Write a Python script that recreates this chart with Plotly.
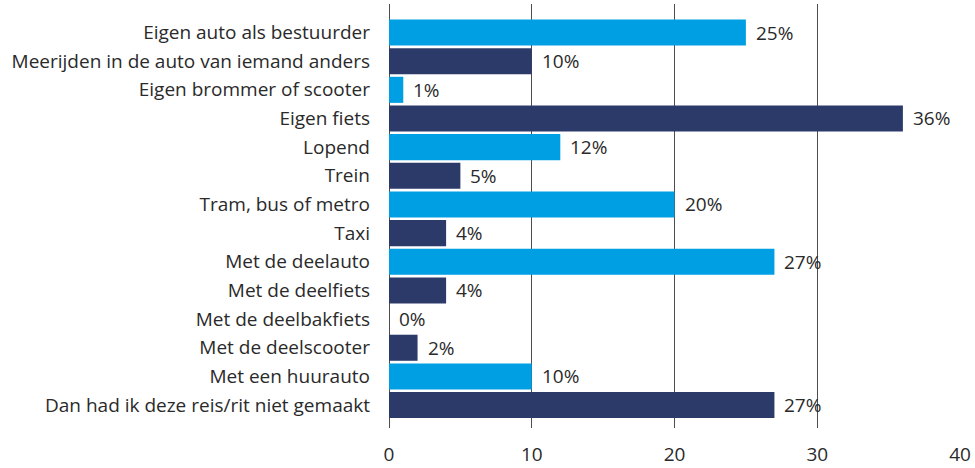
import plotly.graph_objects as go

categories = [
    "Eigen auto als bestuurder",
    "Meerijden in de auto van iemand anders",
    "Eigen brommer of scooter",
    "Eigen fiets",
    "Lopend",
    "Trein",
    "Tram, bus of metro",
    "Taxi",
    "Met de deelauto",
    "Met de deelfiets",
    "Met de deelbakfiets",
    "Met de deelscooter",
    "Met een huurauto",
    "Dan had ik deze reis/rit niet gemaakt",
]
values = [25, 10, 1, 36, 12, 5, 20, 4, 27, 4, 0, 2, 10, 27]
x_ticks = [0, 10, 20, 30, 40]

LIGHT = "#009FE3"
DARK = "#2C3A69"
colors = [LIGHT if i % 2 == 0 else DARK for i in range(len(values))]

FONT = "Open Sans"
FS = 19
TXT = "#2a2a2a"

fig = go.Figure()
fig.add_trace(go.Bar(
    x=values,
    y=categories,
    orientation="h",
    marker=dict(color=colors, line=dict(width=0)),
    width=0.91,
    hoverinfo="skip",
))

for cat, v in zip(categories, values):
    fig.add_annotation(
        x=v, y=cat, text=f"{v}%", showarrow=False,
        xanchor="left", yanchor="middle", xshift=8,
        font=dict(family=FONT, size=FS, color=TXT),
    )

fig.update_layout(
    width=975, height=468,
    margin=dict(l=389, r=15, t=4, b=40, autoexpand=False),
    paper_bgcolor="white", plot_bgcolor="white",
    showlegend=False,
    font=dict(family=FONT, size=FS, color=TXT),
)
fig.update_xaxes(
    range=[0, 40], tickvals=x_ticks, ticktext=[str(t) for t in x_ticks],
    showgrid=True, gridcolor="#4d4d4d", gridwidth=1.2,
    zeroline=True, zerolinecolor="#4d4d4d", zerolinewidth=1.2,
    showline=False, ticks="", ticklabelstandoff=13, automargin=False,
    tickfont=dict(family=FONT, size=FS, color=TXT),
)
fig.update_yaxes(
    type="category", categoryorder="array", categoryarray=categories,
    range=[13.8, -0.995], automargin=False,
    showgrid=False, zeroline=False, showline=False, ticks="",
    ticklabelstandoff=18,
    tickfont=dict(family=FONT, size=FS, color=TXT),
)

fig.write_html(
    "out.html",
    config={"displayModeBar": False},
    post_script="document.body.style.margin='0';",
)
